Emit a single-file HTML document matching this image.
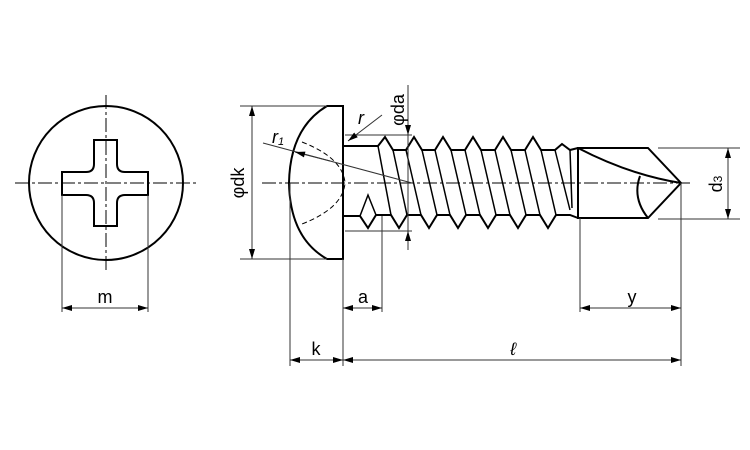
<!DOCTYPE html>
<html><head><meta charset="utf-8"><style>html,body{margin:0;padding:0;background:#fff}svg{display:block}</style></head><body>
<svg width="750" height="450" viewBox="0 0 750 450" xmlns="http://www.w3.org/2000/svg" font-family="Liberation Sans, sans-serif">
<defs>
<marker id="a" viewBox="0 0 10 6" refX="10" refY="3" markerWidth="11" markerHeight="6" orient="auto-start-reverse" markerUnits="userSpaceOnUse"><path d="M0,0 L10,3 L0,6 Z" fill="#000"/></marker>
</defs>
<g fill="none" stroke="#000">
<circle cx="106" cy="183" r="77" stroke-width="2"/>
<path d="M94,140 H117 V164 Q117,172 125,172 H148 V195 H125 Q117,195 117,203 V226 H94 V203 Q94,195 86,195 H62 V172 H86 Q94,172 94,164 Z" stroke-width="2"/>
<g stroke-width="1" stroke-dasharray="14,3,3,3">
<line x1="15" y1="183" x2="196" y2="183"/>
<line x1="106" y1="95" x2="106" y2="272"/>
</g>
<g stroke-width="1" stroke="#333">
<line x1="62" y1="195" x2="62" y2="312"/><line x1="148" y1="195" x2="148" y2="312"/>
<line x1="62" y1="308" x2="148" y2="308" marker-start="url(#a)" marker-end="url(#a)"/>
</g>
<path d="M343,106 L327,106 Q290,128 289,183 Q290,238 327,259 L343,259 Z" stroke-width="2"/>
<path d="M302,142 Q343,158 345,183 Q343,208 302,224" stroke-width="1" stroke-dasharray="5,3"/>
<path d="M343,146 H378 L385,137 L393,150 H406 L414,137 L422,150 H435 L443,137 L451,150 H465 L473,137 L481,150 H495 L503,137 L511,150 H525 L533,137 L541,150 H555 L562,144 L570,150 L578,148" stroke-width="2"/>
<path d="M343,216 H360 L368,228 L376,215 H391 L399,228 L407,215 H421 L429,228 L437,215 H450 L458,228 L466,215 H480 L488,228 L496,215 H510 L518,228 L526,215 H540 L548,228 L556,215 H570 L578,218" stroke-width="2"/>
<g stroke-width="1.5">
<path d="M360,216 L368,195 L376,215"/>
<line x1="378" y1="146" x2="391" y2="215"/><line x1="393" y1="150" x2="407" y2="215"/>
<line x1="406" y1="150" x2="421" y2="215"/><line x1="422" y1="150" x2="437" y2="215"/>
<line x1="435" y1="150" x2="450" y2="215"/><line x1="451" y1="150" x2="466" y2="215"/>
<line x1="465" y1="150" x2="480" y2="215"/><line x1="481" y1="150" x2="496" y2="215"/>
<line x1="495" y1="150" x2="510" y2="215"/><line x1="511" y1="150" x2="526" y2="215"/>
<line x1="525" y1="150" x2="540" y2="215"/><line x1="541" y1="150" x2="556" y2="215"/>
<line x1="555" y1="150" x2="570" y2="210"/><line x1="570" y1="150" x2="572" y2="208"/>
</g>
<path d="M578,148 H648 L681,183 L648,218 H578 Z" stroke-width="2"/>
<path d="M578,148 Q630,175 681,183" stroke-width="2"/>
<path d="M640,176 Q632,198 648,218" stroke-width="2"/>
<line x1="262" y1="183" x2="690" y2="183" stroke-width="1" stroke-dasharray="14,3,3,3"/>
<g stroke-width="1" stroke="#333">
<line x1="240" y1="106" x2="327" y2="106"/><line x1="240" y1="259" x2="327" y2="259"/>
<line x1="252" y1="106" x2="252" y2="259" marker-start="url(#a)" marker-end="url(#a)"/>
<line x1="345" y1="135" x2="412" y2="135"/><line x1="345" y1="231" x2="412" y2="231"/>
<line x1="408" y1="85" x2="408" y2="135" marker-end="url(#a)"/>
<line x1="408" y1="250" x2="408" y2="231" marker-end="url(#a)"/>
<line x1="408" y1="135" x2="408" y2="231"/>
<line x1="382" y1="115" x2="348" y2="141" marker-end="url(#a)"/>
<line x1="263" y1="143" x2="412" y2="183"/>
<line x1="330" y1="161" x2="295" y2="152" marker-end="url(#a)"/>
<line x1="658" y1="148" x2="740" y2="148"/><line x1="658" y1="219" x2="740" y2="219"/>
<line x1="728" y1="148" x2="728" y2="219" marker-start="url(#a)" marker-end="url(#a)"/>
<line x1="290" y1="183" x2="290" y2="366"/><line x1="343" y1="259" x2="343" y2="366"/>
<line x1="382" y1="216" x2="382" y2="312"/><line x1="580" y1="218" x2="580" y2="312"/>
<line x1="681" y1="183" x2="681" y2="366"/>
<line x1="343" y1="308" x2="382" y2="308" marker-start="url(#a)" marker-end="url(#a)"/>
<line x1="580" y1="308" x2="681" y2="308" marker-start="url(#a)" marker-end="url(#a)"/>
<line x1="290" y1="360" x2="343" y2="360" marker-start="url(#a)" marker-end="url(#a)"/>
<line x1="343" y1="360" x2="681" y2="360" marker-start="url(#a)" marker-end="url(#a)"/>
</g>
</g>
<g font-size="18" fill="#000">
<text x="105" y="303" text-anchor="middle">m</text>
<text x="363" y="303" text-anchor="middle">a</text>
<text x="632" y="303" text-anchor="middle">y</text>
<text x="316" y="355" text-anchor="middle">k</text>
<text x="513" y="355" text-anchor="middle" font-style="italic">ℓ</text>
<text x="272" y="143" font-style="italic">r<tspan font-size="11" dy="2">1</tspan></text>
<text x="358" y="124" font-style="italic">r</text>
<text transform="translate(244,183) rotate(-90)" text-anchor="middle">φdk</text>
<text transform="translate(404,110) rotate(-90)" text-anchor="middle">φda</text>
<text transform="translate(722,184) rotate(-90)" text-anchor="middle">d<tspan font-size="12">3</tspan></text>
</g>
</svg>
</body></html>
